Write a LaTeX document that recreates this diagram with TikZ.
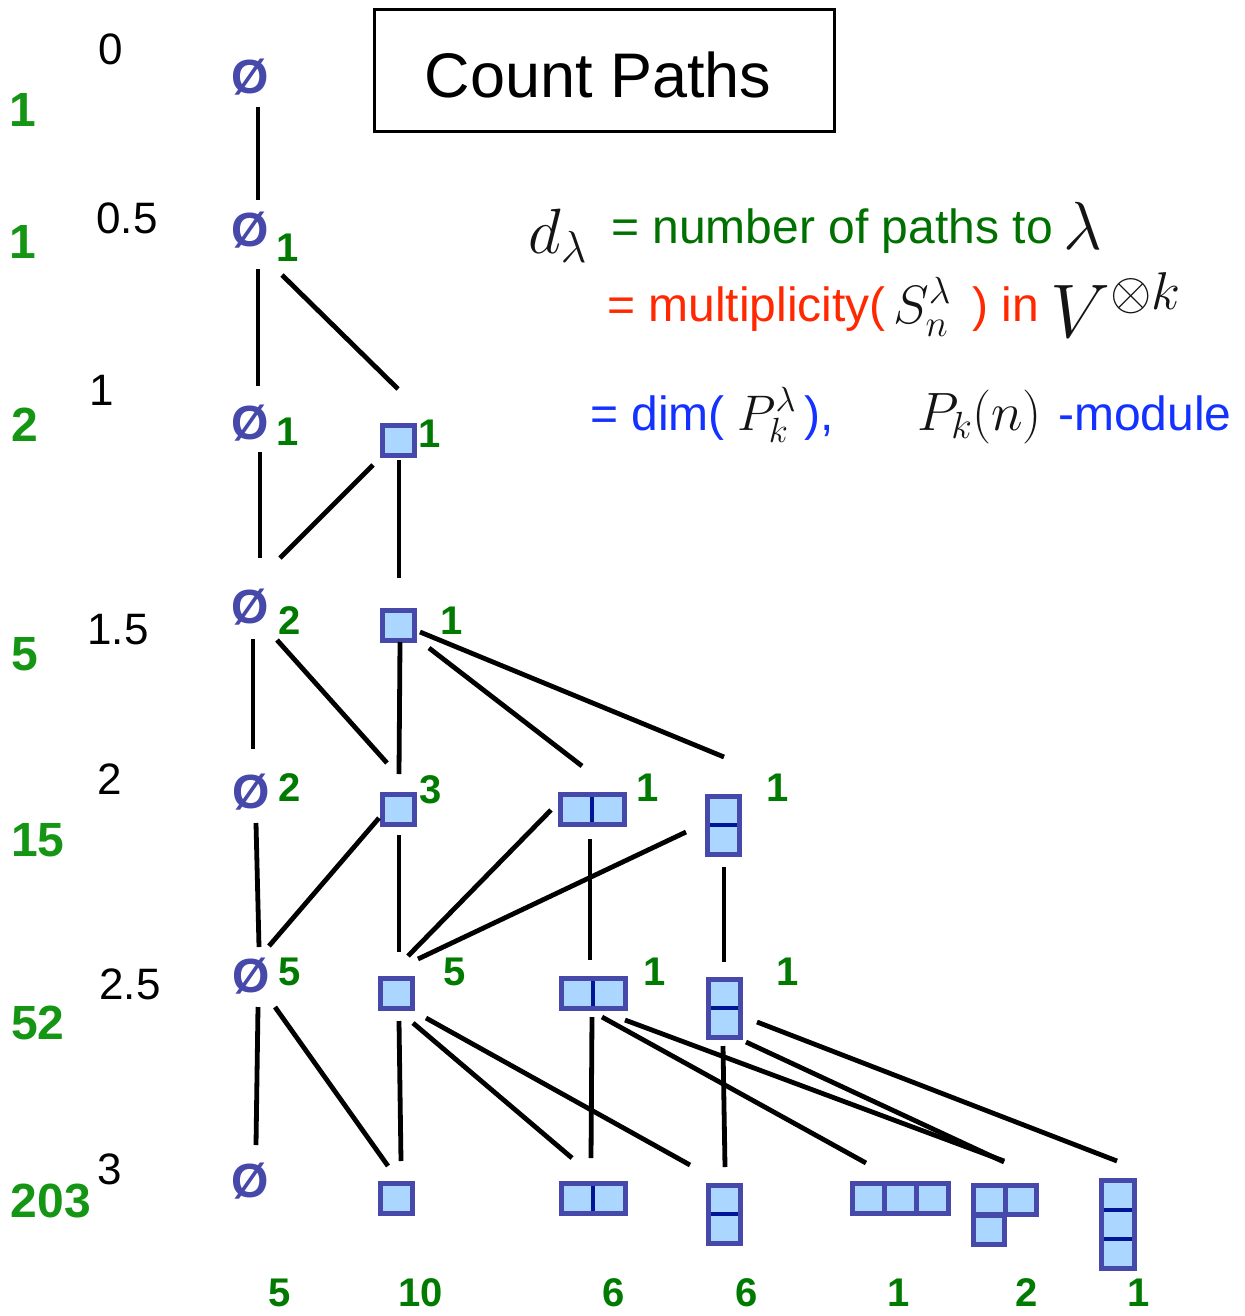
\RequirePackage{fix-cm}
\documentclass[tikz,border=0pt]{standalone}
\usepackage{fontspec}
\setmainfont{Liberation Sans}
\usetikzlibrary{calc}
\definecolor{ydb}{RGB}{70,72,170}
\definecolor{ydf}{RGB}{170,214,255}
\definecolor{ydn}{RGB}{0,22,150}
\definecolor{esym}{RGB}{70,72,170}
\definecolor{ngreen}{RGB}{0,122,0}
\definecolor{lgreen}{RGB}{20,150,20}
\definecolor{tgreen}{RGB}{0,112,0}
\definecolor{tred}{RGB}{255,40,0}
\definecolor{tblue}{RGB}{20,50,255}
\definecolor{mgray}{RGB}{20,20,20}
\tikzset{
  yd/.style={draw=ydb, fill=ydf, line width=5pt, inner sep=0pt, outer sep=0pt},
  cellone/.style={yd, minimum width=32pt, minimum height=30pt},
  hortwo/.style={yd, minimum width=64pt, minimum height=30pt,
    path picture={\draw[ydn, line width=4pt] (path picture bounding box.north) -- (path picture bounding box.south);}},
  vertwo/.style={yd, minimum width=32pt, minimum height=58pt,
    path picture={\draw[ydn, line width=4pt] (path picture bounding box.west) -- (path picture bounding box.east);}},
  horthree/.style={yd, minimum width=96pt, minimum height=30pt,
    path picture={
      \draw[ydb, line width=5pt] ($(path picture bounding box.north west)!1/3!(path picture bounding box.north east)$) -- ($(path picture bounding box.south west)!1/3!(path picture bounding box.south east)$);
      \draw[ydb, line width=5pt] ($(path picture bounding box.north west)!2/3!(path picture bounding box.north east)$) -- ($(path picture bounding box.south west)!2/3!(path picture bounding box.south east)$);}},
  vertthree/.style={yd, minimum width=33pt, minimum height=88pt,
    path picture={
      \draw[ydn, line width=4pt] ($(path picture bounding box.north west)!1/3!(path picture bounding box.south west)$) -- ($(path picture bounding box.north east)!1/3!(path picture bounding box.south east)$);
      \draw[ydn, line width=4pt] ($(path picture bounding box.north west)!2/3!(path picture bounding box.south west)$) -- ($(path picture bounding box.north east)!2/3!(path picture bounding box.south east)$);}},
  hooktop/.style={yd, minimum width=63pt, minimum height=29pt,
    path picture={\draw[ydb, line width=5pt] (path picture bounding box.north) -- (path picture bounding box.south);}},
  hookbot/.style={yd, minimum width=31pt, minimum height=29pt},
  empt/.style={text=esym, font=\fontsize{48}{56}\selectfont\bfseries, inner sep=0pt},
  num/.style={text=ngreen, font=\fontsize{40}{48}\selectfont\bfseries, inner sep=0pt},
  lnum/.style={text=lgreen, font=\fontsize{48}{58}\selectfont\bfseries, inner sep=0pt},
  lev/.style={text=black, font=\fontsize{44}{53}\selectfont, inner sep=0pt},
  conn/.style={line width=4.8pt, black},
  titlebox/.style={draw, line width=3pt, minimum width=460pt, minimum height=122pt, inner sep=0pt},
  titletext/.style={font=\fontsize{63}{75}\selectfont, inner sep=0pt},
  ftxt/.style={anchor=base west, inner sep=0pt, font=\fontsize{48}{58}\selectfont},
  fmath/.style={anchor=base west, inner sep=0pt, text=mgray},
}
\begin{document}
\begin{tikzpicture}[x=1pt,y=-1pt]
\useasboundingbox (0,0) rectangle (1244,1316);
% title
\node[titlebox] (title) at (604.5,70.5) {};
\node[titletext] (titlet) at (598,75) {Count Paths};
% formulas
\node[fmath, font=\fontsize{64}{76}\selectfont] (fd) at (528,253) {$d_\lambda$};
\node[ftxt, text=tgreen] (f1) at (611,243) {= number of paths to};
\node[fmath, font=\fontsize{68}{80}\selectfont] (flam) at (1063,249) {$\lambda$};
\node[ftxt, text=tred] (f2) at (607,321) {= multiplicity(};
\node[fmath, font=\fontsize{54}{64}\selectfont] (fS) at (893,323) {$S_n^\lambda$};
\node[ftxt, text=tred] (f2b) at (972,321) {) in};
\node[fmath, font=\fontsize{76}{90}\selectfont] (fV) at (1050,337) {$V^{\otimes k}$};
\node[ftxt, text=tblue] (f3) at (590,430) {= dim(};
\node[fmath, font=\fontsize{50}{60}\selectfont] (fP) at (737,430) {$P_k^\lambda$};
\node[ftxt, text=tblue] (f3b) at (804,430) {),};
\node[fmath, font=\fontsize{54}{64}\selectfont] (fPk) at (917,430) {$P_k(n)$};
\node[ftxt, text=tblue] (f3c) at (1058,430) {-module};
% left column counts
\node[lnum] (l0) at (23,110) {1};
\node[lnum] (l05) at (23,242) {1};
\node[lnum] (l1) at (25,425) {2};
\node[lnum] (l15) at (25,654) {5};
\node[lnum] (l2) at (38,840) {15};
\node[lnum] (l25) at (38,1023) {52};
\node[lnum] (l3) at (51,1201) {203};
% level labels
\node[lev] (lv0) at (111,49) {0};
\node[lev] (lv05) at (127,218) {0.5};
\node[lev] (lv1) at (102,390) {1};
\node[lev] (lv15) at (118,630) {1.5};
\node[lev] (lv2) at (110,779) {2};
\node[lev] (lv25) at (130,984) {2.5};
\node[lev] (lv3) at (110,1169) {3};
% empty partitions
\node[empt] (e0) at (250,77) {Ø};
\node[empt] (e05) at (250,230) {Ø};
\node[empt] (e1) at (250,423) {Ø};
\node[empt] (e15) at (250,607) {Ø};
\node[empt] (e2) at (251,792) {Ø};
\node[empt] (e25) at (251,976) {Ø};
\node[empt] (e3) at (250,1181) {Ø};
% young diagrams
\node[cellone] (b1) at (398,440) {};
\node[cellone] (b15) at (398,625) {};
\node[cellone] (b2) at (398,809) {};
\node[cellone] (b25) at (396,993) {};
\node[cellone] (b3) at (396,1198) {};
\node[hortwo] (h2a) at (592,809) {};
\node[hortwo] (h2b) at (593,993) {};
\node[hortwo] (h2c) at (593,1198) {};
\node[vertwo] (v2a) at (723,825) {};
\node[vertwo] (v2b) at (724,1008) {};
\node[vertwo] (v2c) at (724,1214) {};
\node[horthree] (h3) at (900,1198) {};
\node[hookbot] (hkb) at (989,1229.5) {};
\node[hooktop] (hk) at (1005,1200) {};
\node[vertthree] (v3) at (1118,1224.5) {};
% multiplicities
\node[num] (n05) at (288,248) {1};
\node[num] (n1e) at (288,432) {1};
\node[num] (n1b) at (430,434) {1};
\node[num] (n15e) at (290,621) {2};
\node[num] (n15b) at (452,621) {1};
\node[num] (n2e) at (290,788) {2};
\node[num] (n2b) at (431,790) {3};
\node[num] (n2h) at (648,788) {1};
\node[num] (n2v) at (778,788) {1};
\node[num] (n25e) at (290,972) {5};
\node[num] (n25b) at (455,972) {5};
\node[num] (n25h) at (655,972) {1};
\node[num] (n25v) at (788,972) {1};
\node[num] (c1) at (280,1293) {5};
\node[num] (c2) at (421,1293) {10};
\node[num] (c3) at (614,1293) {6};
\node[num] (c4) at (747,1293) {6};
\node[num] (c5) at (899,1293) {1};
\node[num] (c6) at (1027,1293) {2};
\node[num] (c7) at (1139,1293) {1};
% connectors
\draw[conn] ($(e0)+(8,30)$) -- ($(e05)+(8,-30)$);
\draw[conn] ($(e05)+(8,39)$) -- ($(e1)+(8,-37)$);
\draw[conn] ($(e05)+(32,45)$) -- ($(b1)+(0,-51)$);
\draw[conn] ($(e1)+(10,29)$) -- ($(e15)+(10,-49)$);
\draw[conn] ($(b1)+(-25,25)$) -- ($(e15)+(30,-49)$);
\draw[conn] ($(b1)+(1,20)$) -- ($(b15)+(1,-47)$);
\draw[conn] ($(e15)+(3,32)$) -- ($(e2)+(2,-43)$);
\draw[conn] ($(e15)+(27,33)$) -- ($(b2)+(-11,-46)$);
\draw[conn] ($(b15)+(2,17)$) -- ($(b2)+(1,-35)$);
\draw[conn] ($(b15)+(31,23)$) -- ($(h2a)+(-10,-43)$);
\draw[conn] ($(b15)+(22,7)$) -- ($(v2a)+(1,-68)$);
\draw[conn] ($(e2)+(5,31)$) -- ($(e25)+(8,-29)$);
\draw[conn] ($(b2)+(-19,9)$) -- ($(e25)+(18,-30)$);
\draw[conn] ($(b2)+(1,26)$) -- ($(b25)+(3,-41)$);
\draw[conn] ($(h2a)+(-41,1)$) -- ($(b25)+(12,-37)$);
\draw[conn] ($(v2a)+(-37,7)$) -- ($(b25)+(22,-34)$);
\draw[conn] ($(h2a)+(-2,30)$) -- ($(h2b)+(-3,-33)$);
\draw[conn] ($(v2a)+(1,42)$) -- ($(v2b)+(0,-46)$);
\draw[conn] ($(e25)+(7,31)$) -- ($(e3)+(6,-36)$);
\draw[conn] ($(e25)+(24,31)$) -- ($(b3)+(-8,-32)$);
\draw[conn] ($(b25)+(3,28)$) -- ($(b3)+(5,-37)$);
\draw[conn] ($(b25)+(17,30)$) -- ($(h2c)+(-21,-40)$);
\draw[conn] ($(b25)+(30,25)$) -- ($(v2c)+(-34,-49)$);
\draw[conn] ($(h2b)+(-1,24)$) -- ($(h2c)+(-2,-40)$);
\draw[conn] ($(h2b)+(9,24)$) -- ($(h3)+(-34,-35)$);
\draw[conn] ($(h2b)+(32,27)$) -- ($(hk)+(-1,-39)$);
\draw[conn] ($(v2b)+(-1,38)$) -- ($(v2c)+(1,-47)$);
\draw[conn] ($(v2b)+(22,34)$) -- ($(hk)+(-1,-38)$);
\draw[conn] ($(v2b)+(33,14)$) -- ($(v3)+(-1,-63.5)$);
\end{tikzpicture}
\end{document}
